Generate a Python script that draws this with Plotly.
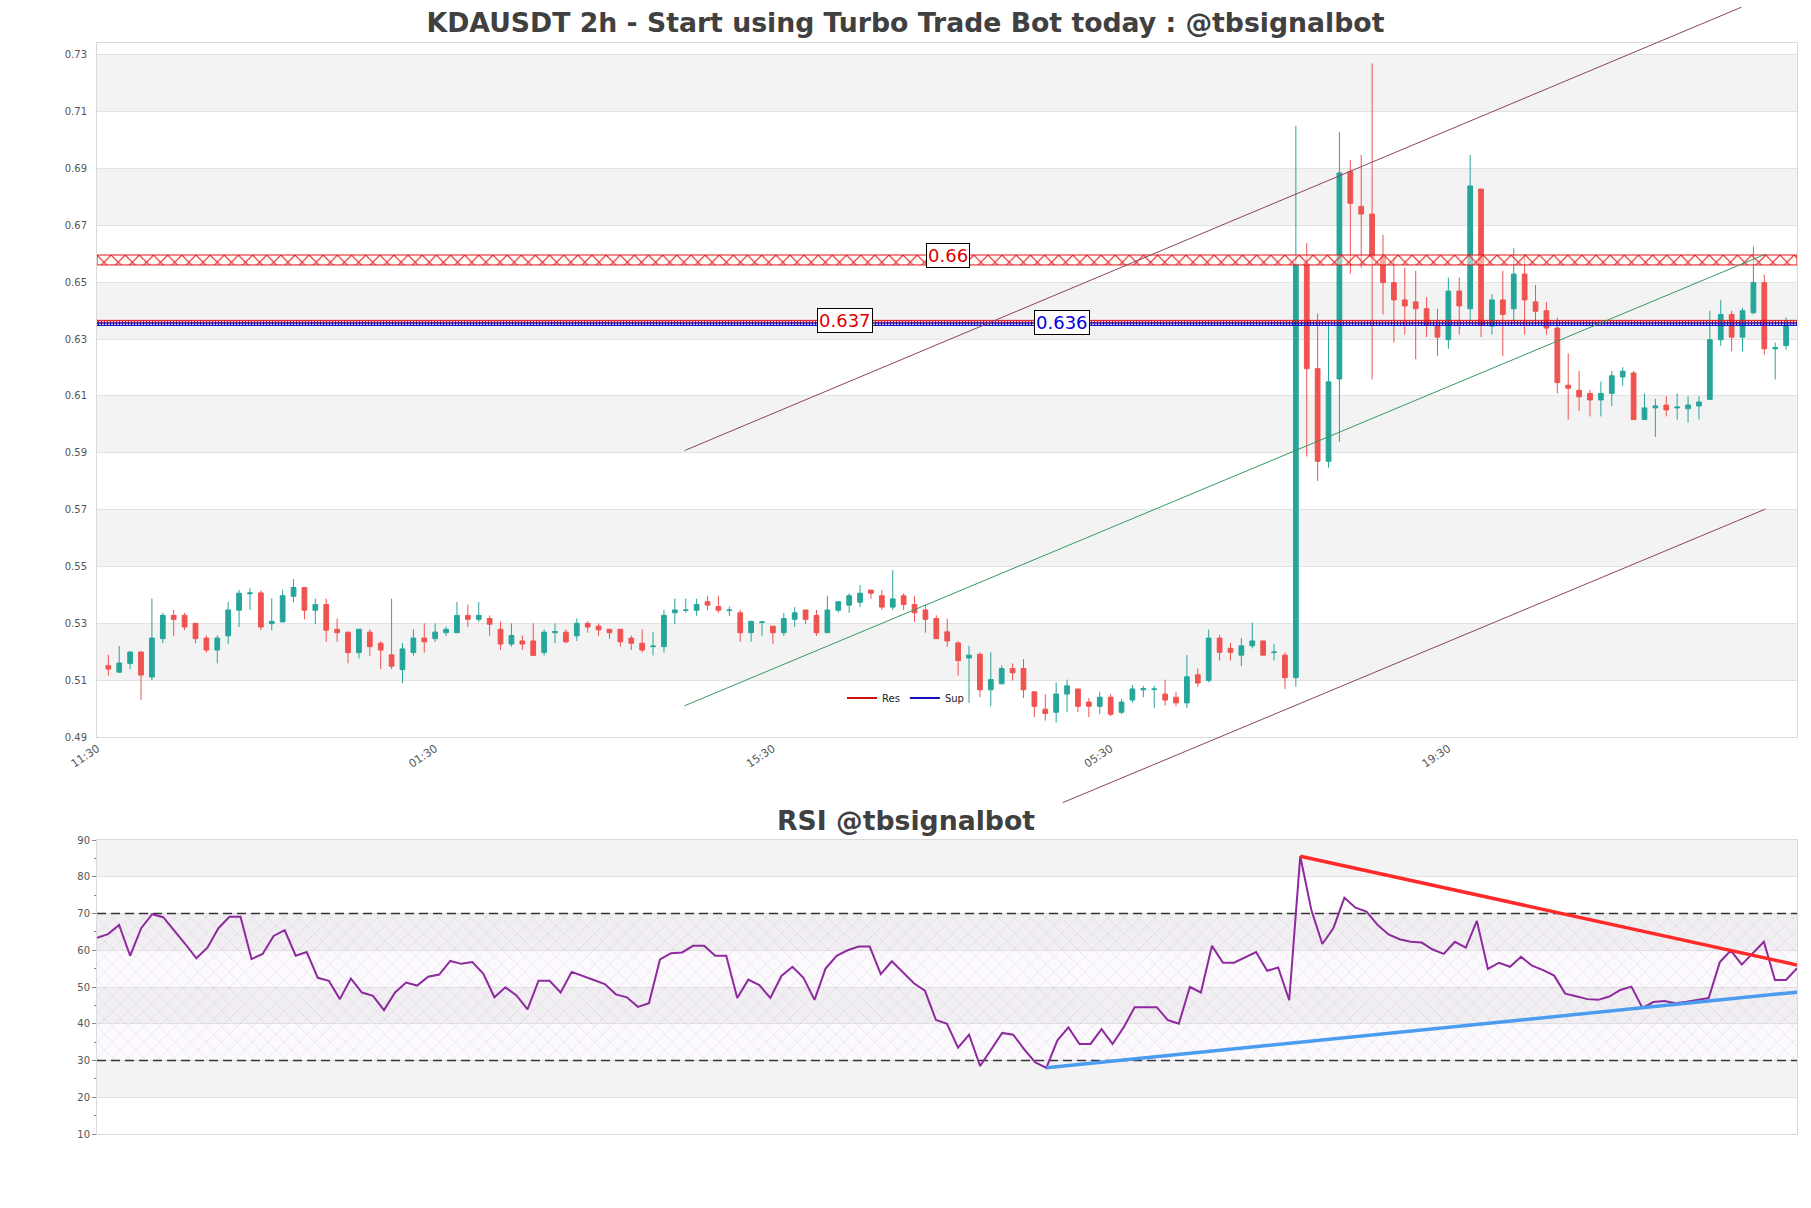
import plotly.graph_objects as go

# ---------------- data ----------------
tick_index = [-1, 30, 61, 92, 123]
tick_labels = ['11:30', '01:30', '15:30', '05:30', '19:30']

opens = [0.5151, 0.5128, 0.5159, 0.5199, 0.5111, 0.5246, 0.5328, 0.5328, 0.5300, 0.5248,
         0.5206, 0.5256, 0.5346, 0.5404, 0.5407, 0.5299, 0.5305, 0.5395, 0.5426, 0.5346,
         0.5366, 0.5279, 0.5269, 0.5197, 0.5269, 0.5230, 0.5189, 0.5137, 0.5197, 0.5248,
         0.5246, 0.5267, 0.5267, 0.5328, 0.5314, 0.5317, 0.5279, 0.5227, 0.5238, 0.5238,
         0.5197, 0.5267, 0.5269, 0.5256, 0.5300, 0.5290, 0.5279, 0.5279, 0.5248, 0.5230,
         0.5218, 0.5218, 0.5337, 0.5345, 0.5346, 0.5376, 0.5359, 0.5345, 0.5337, 0.5267,
         0.5303, 0.5290, 0.5267, 0.5314, 0.5347, 0.5328, 0.5267, 0.5346, 0.5364, 0.5374,
         0.5417, 0.5397, 0.5357, 0.5397, 0.5366, 0.5347, 0.5317, 0.5270, 0.5231, 0.5178,
         0.5191, 0.5066, 0.5087, 0.5141, 0.5141, 0.5059, 0.4998, 0.4987, 0.5051, 0.5069,
         0.5023, 0.5008, 0.5040, 0.4987, 0.5030, 0.5066, 0.5067, 0.5051, 0.5040, 0.5020,
         0.5119, 0.5099, 0.5248, 0.5212, 0.5188, 0.5221, 0.5238, 0.5197, 0.5188, 0.5109,
         0.6562, 0.6196, 0.5870, 0.6160, 0.6890, 0.6767, 0.6740, 0.6589, 0.6499, 0.6438,
         0.6431, 0.6407, 0.6349, 0.6298, 0.6469, 0.6407, 0.6828, 0.6346, 0.6438, 0.6407,
         0.6529, 0.6431, 0.6400, 0.6339, 0.6138, 0.6120, 0.6109, 0.6086, 0.6109, 0.6167,
         0.6181, 0.6017, 0.6058, 0.6068, 0.6058, 0.6055, 0.6065, 0.6088, 0.6298, 0.6387,
         0.6307, 0.6393, 0.6499, 0.6266, 0.6277]
highs = [0.5189, 0.5220, 0.5201, 0.5201, 0.5387, 0.5337, 0.5347, 0.5337, 0.5300, 0.5257,
         0.5257, 0.5375, 0.5418, 0.5424, 0.5416, 0.5388, 0.5418, 0.5456, 0.5426, 0.5387,
         0.5387, 0.5317, 0.5269, 0.5279, 0.5279, 0.5238, 0.5387, 0.5230, 0.5279, 0.5300,
         0.5300, 0.5288, 0.5375, 0.5366, 0.5375, 0.5328, 0.5307, 0.5300, 0.5257, 0.5300,
         0.5279, 0.5300, 0.5279, 0.5317, 0.5307, 0.5300, 0.5279, 0.5279, 0.5257, 0.5279,
         0.5269, 0.5347, 0.5387, 0.5387, 0.5387, 0.5397, 0.5397, 0.5359, 0.5347, 0.5307,
         0.5307, 0.5290, 0.5337, 0.5357, 0.5347, 0.5347, 0.5397, 0.5376, 0.5406, 0.5435,
         0.5417, 0.5417, 0.5487, 0.5406, 0.5397, 0.5366, 0.5328, 0.5316, 0.5238, 0.5221,
         0.5198, 0.5198, 0.5152, 0.5159, 0.5174, 0.5059, 0.5051, 0.5092, 0.5102, 0.5069,
         0.5037, 0.5059, 0.5051, 0.5033, 0.5083, 0.5080, 0.5080, 0.5102, 0.5059, 0.5188,
         0.5141, 0.5278, 0.5260, 0.5231, 0.5248, 0.5303, 0.5238, 0.5227, 0.5198, 0.7050,
         0.6638, 0.6390, 0.6361, 0.7029, 0.6930, 0.6948, 0.7270, 0.6667, 0.6589, 0.6551,
         0.6540, 0.6448, 0.6407, 0.6517, 0.6517, 0.6948, 0.6828, 0.6458, 0.6540, 0.6620,
         0.6599, 0.6490, 0.6431, 0.6376, 0.6250, 0.6188, 0.6122, 0.6151, 0.6188, 0.6201,
         0.6188, 0.6109, 0.6090, 0.6099, 0.6109, 0.6099, 0.6099, 0.6400, 0.6438, 0.6400,
         0.6410, 0.6626, 0.6527, 0.6288, 0.6377]
lows = [0.5116, 0.5126, 0.5139, 0.5031, 0.5100, 0.5230, 0.5255, 0.5276, 0.5230, 0.5197,
        0.5159, 0.5227, 0.5287, 0.5347, 0.5276, 0.5276, 0.5305, 0.5374, 0.5314, 0.5297,
        0.5235, 0.5235, 0.5159, 0.5176, 0.5186, 0.5139, 0.5139, 0.5090, 0.5186, 0.5197,
        0.5235, 0.5255, 0.5267, 0.5287, 0.5305, 0.5255, 0.5206, 0.5218, 0.5206, 0.5187,
        0.5187, 0.5230, 0.5230, 0.5238, 0.5267, 0.5256, 0.5246, 0.5218, 0.5206, 0.5197,
        0.5187, 0.5197, 0.5297, 0.5337, 0.5326, 0.5346, 0.5337, 0.5326, 0.5235, 0.5235,
        0.5256, 0.5227, 0.5256, 0.5287, 0.5297, 0.5256, 0.5267, 0.5337, 0.5337, 0.5357,
        0.5386, 0.5347, 0.5347, 0.5347, 0.5305, 0.5267, 0.5246, 0.5217, 0.5116, 0.5020,
        0.5040, 0.5008, 0.5087, 0.5099, 0.5037, 0.4970, 0.4958, 0.4951, 0.4987, 0.4987,
        0.4970, 0.4980, 0.4973, 0.4980, 0.5020, 0.5040, 0.5001, 0.5011, 0.5008, 0.5001,
        0.5077, 0.5092, 0.5169, 0.5169, 0.5149, 0.5212, 0.5188, 0.5169, 0.5069, 0.5077,
        0.5887, 0.5801, 0.5848, 0.5939, 0.6531, 0.6551, 0.6158, 0.6387, 0.6288, 0.6316,
        0.6229, 0.6307, 0.6240, 0.6266, 0.6316, 0.6359, 0.6307, 0.6316, 0.6240, 0.6359,
        0.6316, 0.6349, 0.6316, 0.6109, 0.6017, 0.6047, 0.6028, 0.6028, 0.6065, 0.6136,
        0.6017, 0.6017, 0.5956, 0.6028, 0.6017, 0.6006, 0.6017, 0.6088, 0.6277, 0.6257,
        0.6257, 0.6387, 0.6246, 0.6158, 0.6263]
closes = [0.5139, 0.5160, 0.5199, 0.5118, 0.5248, 0.5328, 0.5314, 0.5287, 0.5246, 0.5206,
          0.5248, 0.5347, 0.5406, 0.5407, 0.5287, 0.5307, 0.5397, 0.5426, 0.5346, 0.5366,
          0.5276, 0.5267, 0.5197, 0.5279, 0.5218, 0.5206, 0.5149, 0.5210, 0.5248, 0.5235,
          0.5269, 0.5279, 0.5328, 0.5314, 0.5328, 0.5297, 0.5227, 0.5257, 0.5227, 0.5187,
          0.5269, 0.5271, 0.5235, 0.5300, 0.5287, 0.5277, 0.5267, 0.5235, 0.5230, 0.5206,
          0.5220, 0.5328, 0.5347, 0.5347, 0.5366, 0.5364, 0.5346, 0.5347, 0.5267, 0.5307,
          0.5305, 0.5267, 0.5317, 0.5337, 0.5314, 0.5267, 0.5347, 0.5376, 0.5397, 0.5406,
          0.5406, 0.5357, 0.5386, 0.5366, 0.5337, 0.5314, 0.5246, 0.5238, 0.5169, 0.5188,
          0.5066, 0.5102, 0.5141, 0.5126, 0.5066, 0.5008, 0.4983, 0.5051, 0.5080, 0.5008,
          0.5008, 0.5040, 0.4980, 0.5023, 0.5069, 0.5070, 0.5069, 0.5030, 0.5020, 0.5112,
          0.5090, 0.5248, 0.5198, 0.5198, 0.5221, 0.5238, 0.5188, 0.5199, 0.5109, 0.6562,
          0.6196, 0.5870, 0.6150, 0.6885, 0.6778, 0.6740, 0.6589, 0.6499, 0.6438, 0.6417,
          0.6407, 0.6349, 0.6307, 0.6469, 0.6417, 0.6839, 0.6349, 0.6438, 0.6387, 0.6529,
          0.6438, 0.6398, 0.6339, 0.6147, 0.6127, 0.6097, 0.6086, 0.6109, 0.6171, 0.6187,
          0.6017, 0.6058, 0.6065, 0.6051, 0.6061, 0.6068, 0.6079, 0.6298, 0.6387, 0.6307,
          0.6400, 0.6499, 0.6266, 0.6270, 0.6349]

rsi = [63.4, 64.4, 66.9, 58.5, 66.0, 69.8, 69.0, 65.5, 61.7, 57.8,
       60.7, 66.0, 69.1, 69.1, 57.6, 59.0, 63.9, 65.5, 58.5, 59.5,
       52.5, 51.7, 46.7, 52.3, 48.5, 47.6, 43.7, 48.5, 51.2, 50.4,
       52.8, 53.4, 57.1, 56.3, 56.8, 53.6, 47.2, 49.9, 47.7, 43.9,
       51.7, 51.7, 48.5, 54.1, 52.9, 51.9, 50.8, 48.0, 47.2, 44.6,
       45.6, 57.5, 59.2, 59.4, 61.2, 61.2, 58.5, 58.5, 47.0, 52.0,
       50.5, 47.0, 53.0, 55.5, 52.5, 46.5, 55.0, 58.5, 60.0, 61.0,
       61.0, 53.5, 57.0, 54.0, 51.0, 49.0, 41.0, 40.0, 33.5, 37.0,
       28.5, 33.0, 37.5, 37.0, 33.0, 29.5, 28.0, 35.5, 39.0, 34.5,
       34.5, 38.5, 34.5, 39.0, 44.5, 44.5, 44.5, 41.0, 40.0, 50.0,
       48.5, 61.2, 56.6, 56.6, 58.1, 59.5, 54.4, 55.3, 46.4, 85.6,
       71.0, 61.7, 66.0, 74.3, 71.6, 70.5, 66.9, 64.3, 63.0, 62.3,
       62.1, 60.2, 59.0, 62.3, 60.7, 68.0, 54.9, 56.6, 55.5, 58.2,
       55.8, 54.6, 53.1, 48.2, 47.5, 46.7, 46.5, 47.4, 49.2, 50.1,
       44.3, 45.9, 46.2, 45.6, 46.0, 46.5, 47.0, 56.7, 59.9, 56.1,
       59.2, 62.3, 51.9, 51.9, 55.1]

price_ticks = [0.49, 0.51, 0.53, 0.55, 0.57, 0.59, 0.61, 0.63, 0.65, 0.67, 0.69, 0.71, 0.73]
rsi_ticks = [10, 20, 30, 40, 50, 60, 70, 80, 90]
rsi_bounds = [30, 70]

res_levels = [0.6596, 0.6366]
res_band_low = [0.6561, 0.6357]
res_label_x = [77.1, 67.6]
sup_levels = [0.6357]
sup_band_low = [0.6348]
sup_label_x = [87.5]

chan_upper_x = [52.9, 149.9]
chan_upper_y = [0.5908, 0.7468]
chan_mid_x = [52.9, 152.1]
chan_mid_y = [0.5010, 0.6599]
chan_lower_x = [87.6, 152.1]
chan_lower_y = [0.4669, 0.5702]

rsi_res_x = [109, 154]
rsi_res_y = [85.6, 56.0]
rsi_sup_x = [86, 154]
rsi_sup_y = [28.0, 48.6]

# ---------------- layout constants ----------------
W, H = 1811, 1208
ML, MR = 97, 14
MAIN_TOP, MAIN_BOT = 43, 737
RSI_TOP, RSI_BOT = 840, 1134
X_RANGE = [-1.04, 155.0]
Y_RANGE = [0.49, 0.7342]
UP, DN = '#26a69a', '#ef5350'
GRID = '#e2e2e2'
STRIPE = '#f3f3f3'
BORDER = '#d9d9d9'
TXT = '#555555'
TITLE_FONT = dict(size=26.7, color='#404040', family='DejaVu Sans', weight='bold')

main_dom = [1 - MAIN_BOT / H, 1 - MAIN_TOP / H]
rsi_dom = [1 - RSI_BOT / H, 1 - RSI_TOP / H]

# overlay axis (whole paper) with same data scale as the main price axis
k = (Y_RANGE[1] - Y_RANGE[0]) / ((main_dom[1] - main_dom[0]) * H)
y3_range = [Y_RANGE[0] - main_dom[0] * H * k, Y_RANGE[1] + (1 - main_dom[1]) * H * k]

idx = list(range(len(opens)))
ridx = list(range(len(rsi)))

fig = go.Figure()

fig.add_trace(go.Candlestick(
    x=idx, open=opens, high=highs, low=lows, close=closes,
    increasing=dict(line=dict(color=UP, width=1), fillcolor=UP),
    decreasing=dict(line=dict(color=DN, width=1), fillcolor=DN),
    whiskerwidth=0, showlegend=False, hoverinfo='skip'))


def band(lo, hi, color, wide):
    if wide:
        pat = dict(shape='x', fgcolor=color, bgcolor='rgba(255,250,235,0.5)', size=10, solidity=0.2)
    else:
        pat = dict(shape='|', fgcolor=color, bgcolor='rgba(0,0,0,0)', size=3, solidity=0.45)
    return go.Scatter(
        x=[X_RANGE[0], X_RANGE[1], X_RANGE[1], X_RANGE[0], X_RANGE[0]],
        y=[lo, lo, hi, hi, lo], mode='lines',
        line=dict(color=color, width=1), fill='toself',
        fillcolor='rgba(0,0,0,0)', fillpattern=pat,
        showlegend=False, hoverinfo='skip')


for lv, lo in zip(res_levels, res_band_low):
    fig.add_trace(band(lo, lv, '#e3141b', lv - lo > 0.002))
for lv, lo in zip(sup_levels, sup_band_low):
    fig.add_trace(band(lo, lv, '#1010d0', lv - lo > 0.002))

# legend entries
fig.add_trace(go.Scatter(x=[None], y=[None], mode='lines', name='Res',
                         line=dict(color='#cc1111', width=2)))
fig.add_trace(go.Scatter(x=[None], y=[None], mode='lines', name='Sup',
                         line=dict(color='#1111bb', width=2)))

# channel lines on overlay axes
for xs, ys, col in [(chan_upper_x, chan_upper_y, '#8a4466'),
                    (chan_mid_x, chan_mid_y, '#35995f'),
                    (chan_lower_x, chan_lower_y, '#8a4466')]:
    fig.add_trace(go.Scatter(x=xs, y=ys, mode='lines', xaxis='x3', yaxis='y3',
                             line=dict(color=col, width=1), showlegend=False,
                             hoverinfo='skip'))

# RSI panel
fig.add_trace(go.Scatter(
    x=[ridx[0], ridx[-1], ridx[-1], ridx[0], ridx[0]],
    y=[rsi_bounds[0], rsi_bounds[0], rsi_bounds[1], rsi_bounds[1], rsi_bounds[0]],
    mode='lines', line=dict(width=0), fill='toself',
    fillcolor='rgba(0,0,0,0)',
    fillpattern=dict(shape='x', fgcolor='rgba(160,130,180,0.4)',
                     bgcolor='rgba(225,210,235,0.10)', size=11, solidity=0.07),
    xaxis='x2', yaxis='y2', showlegend=False, hoverinfo='skip'))
for b in rsi_bounds:
    fig.add_trace(go.Scatter(x=[ridx[0], ridx[-1]], y=[b, b], mode='lines',
                             line=dict(color='#333333', width=1.3, dash='9px,5px'),
                             xaxis='x2', yaxis='y2', showlegend=False, hoverinfo='skip'))
fig.add_trace(go.Scatter(x=ridx, y=rsi, mode='lines',
                         line=dict(color='#8e2a9e', width=2),
                         xaxis='x2', yaxis='y2', showlegend=False))
fig.add_trace(go.Scatter(x=rsi_res_x, y=rsi_res_y, mode='lines',
                         line=dict(color='#ff2b2b', width=3.5),
                         xaxis='x2', yaxis='y2', showlegend=False))
fig.add_trace(go.Scatter(x=rsi_sup_x, y=rsi_sup_y, mode='lines',
                         line=dict(color='#4a9cf0', width=3.5),
                         xaxis='x2', yaxis='y2', showlegend=False))

# stripes
shapes = []
for i in range(len(price_ticks) - 1):
    if i % 2 == 1:
        shapes.append(dict(type='rect', xref='x domain', yref='y', x0=0, x1=1,
                           y0=price_ticks[i], y1=price_ticks[i + 1],
                           fillcolor=STRIPE, line=dict(width=0), layer='below'))
for i in range(len(rsi_ticks) - 1):
    if i % 2 == 1:
        shapes.append(dict(type='rect', xref='x2 domain', yref='y2', x0=0, x1=1,
                           y0=rsi_ticks[i], y1=rsi_ticks[i + 1],
                           fillcolor=STRIPE, line=dict(width=0), layer='below'))

annotations = []
for lv, lx in zip(res_levels, res_label_x):
    annotations.append(dict(x=lx, y=lv, xref='x', yref='y', text=f"{round(lv, 3):g}",
                            showarrow=False, font=dict(size=18, color='#e00000', family='DejaVu Sans'),
                            bgcolor='white', bordercolor='black', borderwidth=1, borderpad=1))
for lv, lx in zip(sup_levels, sup_label_x):
    annotations.append(dict(x=lx, y=lv, xref='x', yref='y', text=f"{round(lv, 3):g}",
                            showarrow=False, font=dict(size=18, color='#0000dd', family='DejaVu Sans'),
                            bgcolor='white', bordercolor='black', borderwidth=1, borderpad=1))
annotations.append(dict(x=(W / 2 - ML) / (W - ML - MR), y=1 - 820 / H, xref='paper', yref='paper',
                        text='RSI @tbsignalbot', showarrow=False, xanchor='center', yanchor='middle',
                        font=TITLE_FONT))

axis_common = dict(showline=True, linecolor=BORDER, linewidth=1, mirror=True, zeroline=False,
                   automargin=False)

fig.update_layout(
    template='none',
    width=W, height=H,
    margin=dict(l=ML, r=MR, t=0, b=0, pad=0),
    paper_bgcolor='white', plot_bgcolor='rgba(0,0,0,0)',
    font=dict(family='DejaVu Sans', color=TXT, size=10),
    title=dict(text='KDAUSDT 2h - Start using Turbo Trade Bot today : @tbsignalbot',
               x=0.5, xref='container', xanchor='center',
               y=1 - 23 / H, yref='container', yanchor='middle',
               font=TITLE_FONT),
    showlegend=True,
    legend=dict(orientation='h', x=(842 - ML) / (W - ML - MR), y=1 - 698 / H,
                xanchor='left', yanchor='middle', bgcolor='rgba(0,0,0,0)',
                font=dict(size=10, color='#222222'), itemwidth=30),
    boxgap=0.38,
    xaxis=dict(domain=[0, 1], anchor='y', range=X_RANGE, rangeslider=dict(visible=False),
               tickvals=tick_index, ticktext=tick_labels, tickangle=-34, ticks='',
               showgrid=False, tickfont=dict(size=11, color=TXT), **axis_common),
    yaxis=dict(domain=main_dom, anchor='x', range=Y_RANGE, tickvals=price_ticks,
               tickformat='.2f', ticks='', showgrid=True, gridcolor=GRID, gridwidth=1,
               tickfont=dict(size=10, color=TXT), ticklabelstandoff=7, **axis_common),
    xaxis2=dict(domain=[0, 1], anchor='y2', range=[ridx[0], ridx[-1]],
                showticklabels=False, ticks='', showgrid=False, **axis_common),
    yaxis2=dict(domain=rsi_dom, anchor='x2', range=[rsi_ticks[0], rsi_ticks[-1]],
                tickvals=rsi_ticks, ticks='outside', ticklen=4, tickcolor='#888888',
                showgrid=True, gridcolor=GRID, tickfont=dict(size=10, color=TXT),
                minor=dict(dtick=5, ticks='outside', ticklen=2, tickcolor='#888888', showgrid=False),
                **axis_common),
    xaxis3=dict(domain=[0, 1], anchor='y3', range=X_RANGE, visible=False),
    yaxis3=dict(domain=[0, 1], anchor='x3', range=y3_range, visible=False),
    shapes=shapes,
    annotations=annotations,
)

fig.write_html('out.html')
